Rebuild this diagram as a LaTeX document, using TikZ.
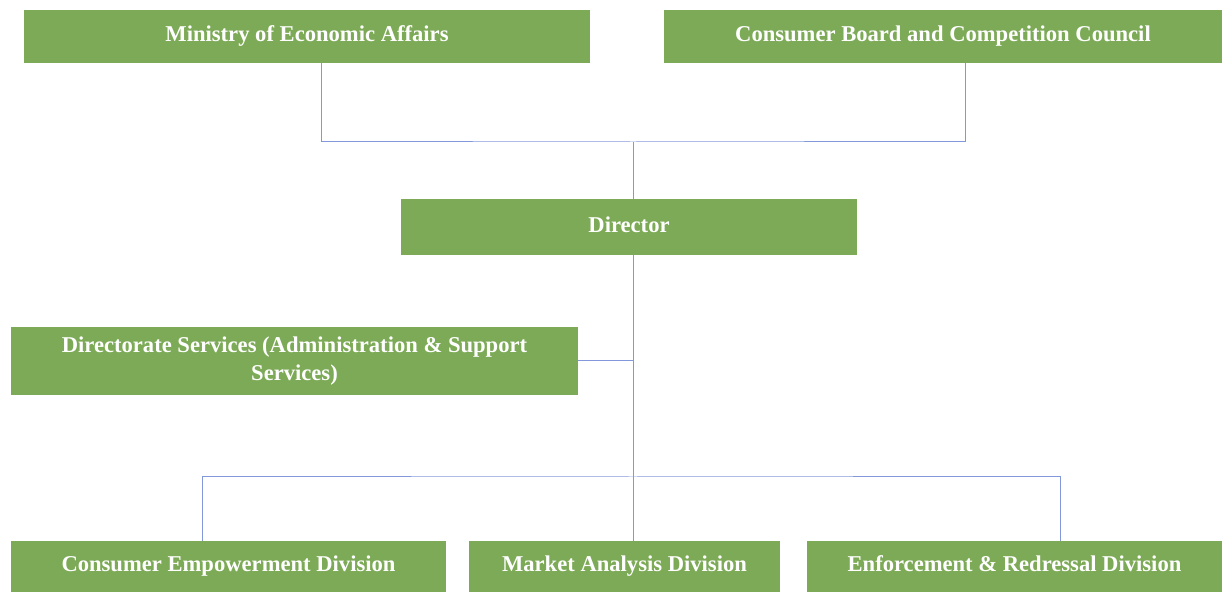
\documentclass[tikz,border=0pt]{standalone}
\usepackage{fontspec}
\setmainfont{Liberation Serif}
\usepackage{tikz}
\definecolor{boxgreen}{HTML}{7DAA57}
\definecolor{linkblue}{HTML}{8298DA}
\tikzstyle{Unit}=[rectangle, fill=boxgreen, text=white, font=\bfseries\fontsize{11.3}{14}\selectfont, align=center, inner sep=0pt, text height=8pt, text depth=2.5pt]
\tikzstyle{Link}=[draw=linkblue, line width=0.5pt]

\begin{document}
\begin{tikzpicture}[x=0.5pt, y=-0.5pt]
    \useasboundingbox (0,0) rectangle (1222,592);
    \path
    (307,36.5) node[Unit, minimum width=283pt, minimum height=26.5pt] (min) {Ministry of Economic Affairs}
    (943,36.5) node[Unit, minimum width=279pt, minimum height=26.5pt] (cbc) {Consumer Board and Competition Council}
    (629,227) node[Unit, minimum width=228pt, minimum height=28pt] (dir) {Director};

    \path
    (294.5,361) node[Unit, minimum width=283.5pt, minimum height=34pt, text height=, text depth=] (dss) {Directorate Services (Administration \& Support\\Services)}
    (228.5,566.5) node[Unit, minimum width=217.5pt, minimum height=25.5pt] (ced) {Consumer Empowerment Division}
    (624.5,566.5) node[Unit, minimum width=155.5pt, minimum height=25.5pt] (mad) {Market Analysis Division}
    (1014.5,566.5) node[Unit, minimum width=207.5pt, minimum height=25.5pt] (erd) {Enforcement \& Redressal Division};

    \coordinate (top) at (633,142);
    \coordinate (mid) at (633,477);

    \draw[Link] ([xshift=7pt]min.south) |- (top) -| ([xshift=11pt]cbc.south);
    \draw[Link] (top) -- (top |- dir.north);
    \draw[Link] (top |- dir.south) -- (mid);
    \draw[Link] (dss.east) -- (dss.east -| mid);
    \draw[Link] ([xshift=-13.25pt]ced.north) |- (mid) -| ([xshift=22.75pt]erd.north);
    \draw[Link] (mid) -- (mid |- mad.north);
\end{tikzpicture}
\end{document}
